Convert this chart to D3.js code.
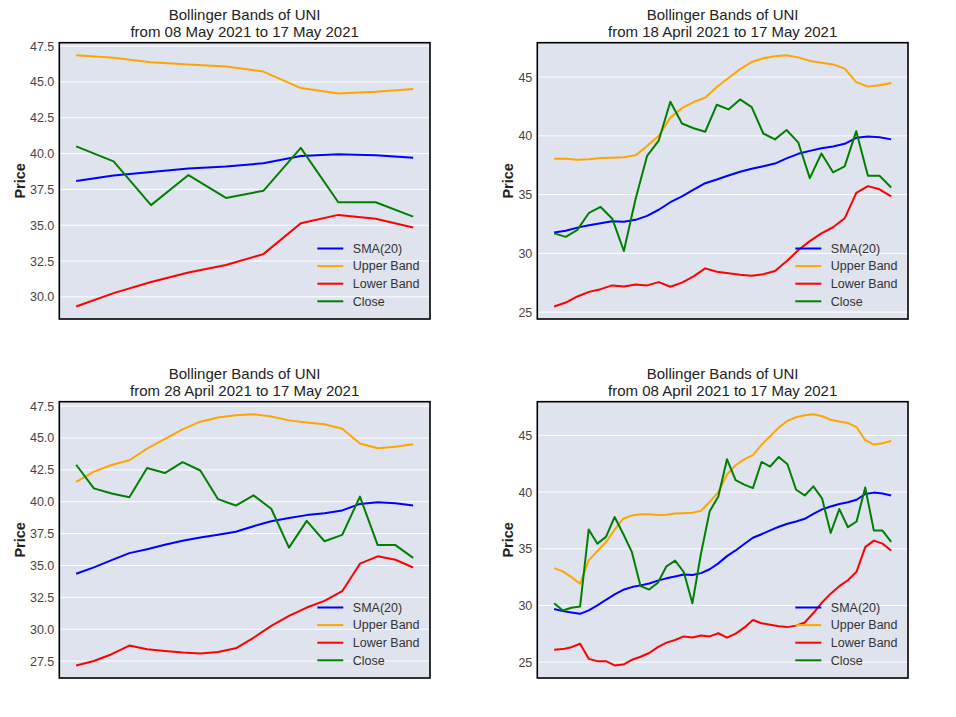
<!DOCTYPE html>
<html>
<head>
<meta charset="utf-8">
<script src="https://cdn.jsdelivr.net/npm/d3@7"></script>
<style>
  body { margin: 0; background: #fff; }
  svg { font-family: "Liberation Sans", Arial, sans-serif; }
</style>
</head>
<body>
<svg id="chart"></svg>
<script>
// daily values, 08 April 2021 .. 17 May 2021
const startDate = "2021-04-08";
const close = [30.2, 29.55, 29.8, 29.9, 36.7, 35.45, 36.05, 37.8, 36.3, 34.7,
  31.7, 31.4, 32.0, 33.45, 33.95, 32.95, 30.2, 34.6, 38.3, 39.6,
  42.9, 41.05, 40.65, 40.35, 42.65, 42.25, 43.1, 42.45, 40.2, 39.7,
  40.5, 39.45, 36.4, 38.5, 36.9, 37.4, 40.4, 36.6, 36.6, 35.6];
const sma20 = [29.68, 29.5, 29.38, 29.26, 29.56, 30.0, 30.5, 30.97, 31.38, 31.62,
  31.77, 31.93, 32.19, 32.39, 32.56, 32.73, 32.68, 32.85, 33.19, 33.71,
  34.35, 34.85, 35.42, 35.97, 36.28, 36.62, 36.94, 37.2, 37.41, 37.64,
  38.08, 38.47, 38.72, 38.95, 39.1, 39.32, 39.83, 39.95, 39.88, 39.7];
const upperBand = [33.29, 33.0, 32.5, 31.91, 33.97, 34.79, 35.59, 36.68, 37.65, 37.94,
  38.05, 38.05, 37.97, 38.0, 38.11, 38.14, 38.17, 38.34, 39.14, 40.0,
  41.55, 42.36, 42.88, 43.25, 44.16, 44.92, 45.68, 46.28, 46.6, 46.78,
  46.86, 46.68, 46.38, 46.22, 46.08, 45.72, 44.57, 44.19, 44.31, 44.5];
const lowerBand = [26.09, 26.15, 26.32, 26.62, 25.29, 25.09, 25.09, 24.71, 24.79, 25.21,
  25.48, 25.81, 26.33, 26.72, 26.95, 27.27, 27.18, 27.35, 27.27, 27.55,
  27.16, 27.51, 28.04, 28.72, 28.43, 28.3, 28.17, 28.09, 28.22, 28.5,
  29.33, 30.26, 31.04, 31.7, 32.22, 32.98, 35.14, 35.72, 35.45, 34.84];

// window length (days) of each panel, in reading order
const windows = [10, 30, 20, 40];
const ticksFine = [30, 32.5, 35, 37.5, 40, 42.5, 45, 47.5];
const ticksFineLow = [27.5, 30, 32.5, 35, 37.5, 40, 42.5, 45, 47.5];
const ticksCoarse = [25, 30, 35, 40, 45];
const panelTicks = [ticksFine, ticksCoarse, ticksFineLow, ticksCoarse];

const seriesNames = ["SMA(20)", "Upper Band", "Lower Band", "Close"];
const seriesColors = ["#0000ff", "#ffa500", "#ff0000", "#008000"];
const seriesValues = [sma20, upperBand, lowerBand, close];

const W = 956, H = 717;
const svg = d3.select("#chart").attr("width", W).attr("height", H);

const parse = d3.timeParse("%Y-%m-%d");
const fmt = d3.timeFormat("%d %B %Y");
const dates = close.map((_, i) => d3.timeDay.offset(parse(startDate), i));

const cols = [59.3, 537.3], rows = [42.7, 401.7];
const pw = 370.7, ph = 276.3;

windows.forEach((n, p) => {
  const left = cols[p % 2], top = rows[Math.floor(p / 2)];
  const s = close.length - n;
  const sl = seriesValues.map(v => v.slice(s));

  const all = sl.flat();
  const [lo, hi] = d3.extent(all);
  const pad = (hi - lo) * 0.05;
  const y = d3.scaleLinear().domain([lo - pad, hi + pad]).range([ph, 0]);
  const x = d3.scaleLinear().domain([-(n - 1) * 0.05, (n - 1) * 1.05]).range([0, pw]);

  const g = svg.append("g").attr("transform", `translate(${left},${top})`);

  g.append("rect").attr("width", pw).attr("height", ph).attr("fill", "#dee3ee");

  // horizontal grid
  g.selectAll(".grid").data(panelTicks[p]).enter().append("line")
    .attr("x1", 0).attr("x2", pw)
    .attr("y1", d => y(d)).attr("y2", d => y(d))
    .attr("stroke", "#fff").attr("stroke-width", 1);

  const axis = g.append("g")
    .call(d3.axisLeft(y).tickValues(panelTicks[p]).tickSize(0).tickPadding(5)
      .tickFormat(p % 2 ? d3.format("d") : d3.format(".1f")));
  axis.select(".domain").remove();
  axis.selectAll("text").attr("font-size", 12.5).attr("fill", "#444")
    .attr("font-family", "Liberation Sans, Arial, sans-serif");

  let maxW = 0;
  axis.selectAll("text").each(function () { maxW = Math.max(maxW, this.getBBox().width); });

  g.append("text")
    .attr("transform", `translate(${-5 - maxW - 10},${ph / 2}) rotate(-90)`)
    .attr("text-anchor", "middle").attr("dy", "0.35em")
    .attr("font-size", 14.5).attr("font-weight", "bold").attr("fill", "#222")
    .text("Price");

  const line = d3.line().x((d, i) => x(i)).y(d => y(d));
  sl.forEach((vals, k) => {
    g.append("path").datum(vals)
      .attr("d", line)
      .attr("fill", "none")
      .attr("stroke", seriesColors[k])
      .attr("stroke-width", 2)
      .attr("stroke-linejoin", "round");
  });

  g.append("rect").attr("width", pw).attr("height", ph)
    .attr("fill", "none").attr("stroke", "#000").attr("stroke-width", 1.6);

  // title
  const title = g.append("text").attr("text-anchor", "middle")
    .attr("font-size", 15).attr("fill", "#222");
  title.append("tspan").attr("x", pw / 2).attr("y", -22.5).text("Bollinger Bands of UNI");
  title.append("tspan").attr("x", pw / 2).attr("y", -5.5)
    .text(`from ${fmt(dates[s])} to ${fmt(dates[dates.length - 1])}`);

  // legend
  const lg = g.append("g").attr("transform", `translate(258,${ph - 70.5})`);
  seriesNames.forEach((name, k) => {
    const r = lg.append("g").attr("transform", `translate(0,${k * 17.6})`);
    r.append("line").attr("x1", 0).attr("x2", 26)
      .attr("stroke", seriesColors[k]).attr("stroke-width", 2);
    r.append("text").attr("x", 35.5).attr("dy", "0.35em")
      .attr("font-size", 12.5).attr("fill", "#333").text(name);
  });
});
</script>
</body>
</html>
